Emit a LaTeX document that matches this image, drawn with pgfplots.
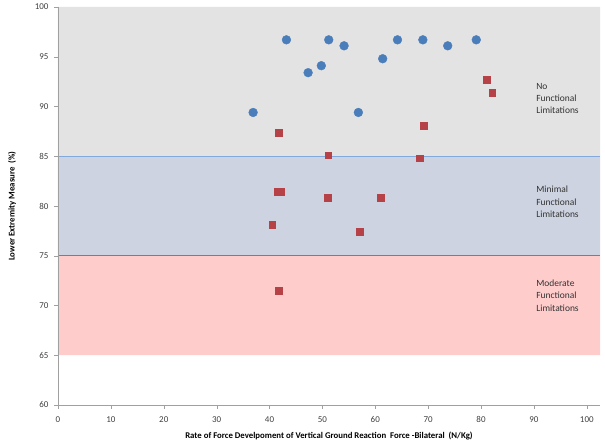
\documentclass[border=0pt]{standalone}
\usepackage{pgfplots}
\pgfplotsset{compat=1.18}
\usepackage{fontspec}
\setmainfont{Carlito}
\definecolor{bandgray}{RGB}{227,227,227}
\definecolor{bandblue}{RGB}{205,211,224}
\definecolor{bandpink}{RGB}{255,204,204}
\definecolor{ptblue}{RGB}{74,126,187}
\definecolor{ptred}{RGB}{182,66,72}
\definecolor{line85}{RGB}{130,168,220}
\definecolor{line75}{RGB}{125,120,160}
\definecolor{axgray}{RGB}{160,160,160}
\begin{document}
\begin{tikzpicture}
\begin{axis}[
  scale only axis,
  width=542bp, height=398bp,
  xmin=0, xmax=102.5, ymin=60, ymax=100,
  axis x line=bottom, axis y line=left,
  axis line style={draw=axgray, -},
  axis on top,
  xtick={0,10,...,100}, ytick={60,65,...,100},
  tick style={draw=axgray},
  major tick length=4bp,
  xtick pos=bottom, ytick pos=left,
  tick align=outside,
  tick label style={font=\fontsize{9}{10}\selectfont, text=black!75},
  xticklabel style={yshift=-4bp},
  yticklabel style={xshift=-2bp},
  /pgf/number format/assume math mode=true,
  xlabel={\textbf{Rate of Force Develpoment of Vertical Ground Reaction\ \ Force -Bilateral\ \ (N/Kg)}},
  ylabel={\textbf{Lower Extremity Measure\ \ (\%)}},
  label style={font=\fontsize{8.8}{10}\selectfont},
  xlabel style={yshift=-2bp},
  ylabel style={yshift=12bp},
  clip=false,
]
\addplot[draw=none, fill=bandgray] coordinates {(0,85) (102.5,85) (102.5,100) (0,100) (0,85)};
\addplot[draw=none, fill=bandblue] coordinates {(0,75) (102.5,75) (102.5,85) (0,85) (0,75)};
\addplot[draw=none, fill=bandpink] coordinates {(0,65) (102.5,65) (102.5,75) (0,75) (0,65)};
\addplot[line85, line width=0.7pt] coordinates {(0,85) (102.5,85)};
\addplot[line75, line width=0.7pt] coordinates {(0,75) (102.5,75)};

% blue circles
\addplot[only marks, mark=*, mark size=4.4bp, mark options={fill=ptblue, draw=ptblue}] coordinates {
(43.2,96.7) (36.9,89.4) (47.3,93.4) (49.8,94.1) (51.2,96.7) (54.1,96.1)
(61.4,94.8) (64.2,96.7) (69.0,96.7) (73.7,96.1) (79.1,96.7) (56.8,89.4)
};
% red squares
\addplot[only marks, mark=square*, mark size=3.4bp, mark options={fill=ptred, draw=ptred}] coordinates {
(41.7,87.4) (41.5,81.4) (42.1,81.4) (40.5,78.1) (81.0,92.7) (82.1,91.4)
(69.1,88.1) (51.1,85.1) (68.4,84.8) (51.0,80.8) (61.0,80.8) (57.1,77.4)
(41.8,71.5)
};

\node[anchor=west, align=left, font=\fontsize{9.5}{12.5}\selectfont, text=black!80] at (axis cs:89.8,90.8) {No\\Functional\\Limitations};
\node[anchor=west, align=left, font=\fontsize{9.5}{12.5}\selectfont, text=black!80] at (axis cs:89.8,80.4) {Minimal\\Functional\\Limitations};
\node[anchor=west, align=left, font=\fontsize{9.5}{12.5}\selectfont, text=black!80] at (axis cs:89.8,71.0) {Moderate\\Functional\\Limitations};
\end{axis}
\pgfresetboundingbox
\path ([shift={(-58bp,-42bp)}]current axis.south west) rectangle ([shift={(5bp,7bp)}]current axis.north east);
\end{tikzpicture}
\end{document}
